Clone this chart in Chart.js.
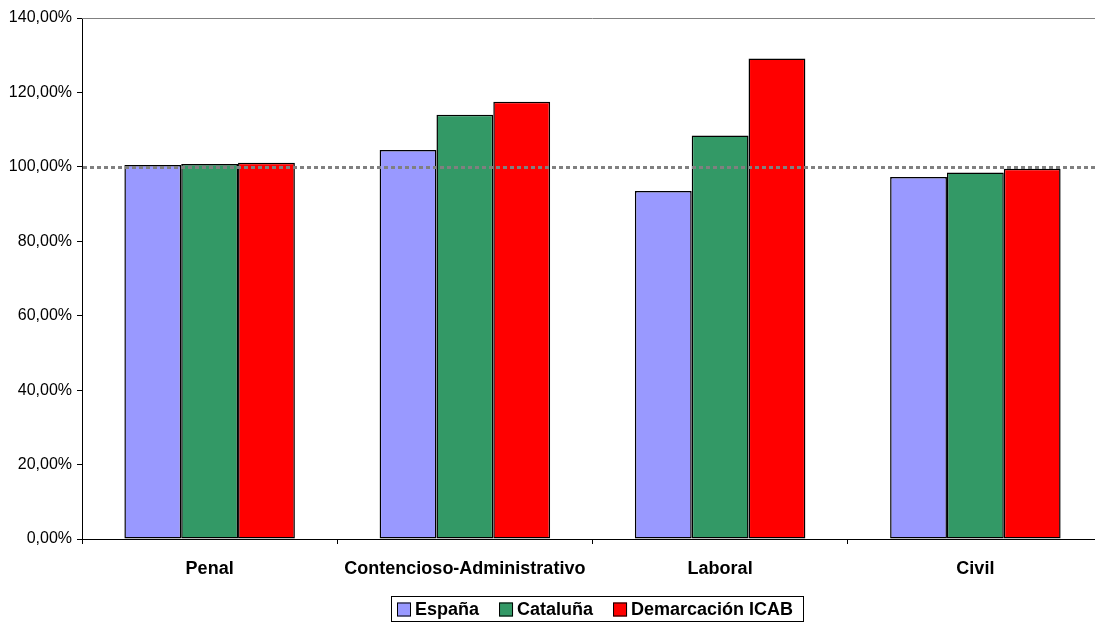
<!DOCTYPE html>
<html><head><meta charset="utf-8">
<script src="https://cdn.jsdelivr.net/npm/chart.js@4/dist/chart.umd.min.js"></script>
<style>
html,body{margin:0;padding:0;background:#fff;overflow:hidden;width:1095px;height:623px}
#wrap{width:1095px;height:623px;overflow:hidden;position:relative}
canvas{display:block;position:absolute;left:0;top:0}
</style>
</head><body><div id="wrap"><canvas id="c" width="1104" height="623"></canvas></div>
<script>
const categories = ['Penal', 'Contencioso-Administrativo', 'Laboral', 'Civil'];
const seriesNames = ['España', 'Cataluña', 'Demarcación ICAB'];
const espana = [100.5, 104.5, 93.5, 97.3];
const cataluna = [100.8, 114.0, 108.4, 98.5];
const icab = [101.1, 117.5, 129.1, 99.5];
const yTicks = [0, 20, 40, 60, 80, 100, 120, 140];
const referenceValue = 100;

const colors = ['#9999FF', '#339966', '#FF0000'];

function fmt(v) { return v.toFixed(2).replace('.', ',') + '%'; }

const extras = {
  id: 'extras',
  afterDatasetsDraw(chart) {
    const ctx = chart.ctx, a = chart.chartArea;
    const y = chart.scales.y.getPixelForValue(referenceValue);
    ctx.save();
    ctx.strokeStyle = '#808080';
    ctx.lineWidth = 3;
    ctx.setLineDash([4, 3]);
    ctx.beginPath();
    ctx.moveTo(a.left + 1, Math.round(y) + 0.5);
    ctx.lineTo(a.right, Math.round(y) + 0.5);
    ctx.stroke();
    ctx.restore();
  },
  afterDraw(chart) {
    const ctx = chart.ctx, a = chart.chartArea;
    ctx.save();
    ctx.strokeStyle = '#808080';
    ctx.lineWidth = 1;
    ctx.beginPath();
    ctx.moveTo(a.left, Math.round(a.top) + 0.5);
    ctx.lineTo(a.right, Math.round(a.top) + 0.5);
    ctx.stroke();

    ctx.font = 'bold 18px "Liberation Sans", Arial, sans-serif';
    const box = 14, gap = 4, sep = 20, pad = 6;
    const widths = chart.data.datasets.map(d => ctx.measureText(d.label).width);
    let total = pad * 2 + sep * (widths.length - 1);
    widths.forEach(w => total += box + gap + w);
    total = Math.max(total, 412);
    const cx = 597;
    const left = Math.round(cx - total / 2);
    const top = 596, h = 25;
    ctx.strokeStyle = '#000';
    ctx.lineWidth = 1;
    ctx.strokeRect(left + 0.5, top + 0.5, Math.round(total), h);
    let x = left + pad;
    const midY = top + h / 2 + 1;
    ctx.textBaseline = 'middle';
    ctx.textAlign = 'left';
    chart.data.datasets.forEach((d, i) => {
      ctx.fillStyle = d.backgroundColor;
      ctx.fillRect(x, midY - box / 2, box, box);
      ctx.strokeStyle = '#000';
      ctx.strokeRect(x + 0.5, midY - box / 2 + 0.5, box - 1, box - 1);
      x += box + gap;
      ctx.fillStyle = '#000';
      ctx.fillText(d.label, x, midY + 1);
      x += widths[i] + sep;
    });
    ctx.restore();
  }
};

const seriesValues = [espana, cataluna, icab];

new Chart(document.getElementById('c'), {
  type: 'bar',
  data: {
    labels: categories,
    datasets: seriesNames.map((name, i) => ({
      label: name,
      data: seriesValues[i],
      backgroundColor: colors[i],
      borderColor: '#000000',
      borderWidth: 1.5,
      borderSkipped: false,
      categoryPercentage: 0.668,
      barPercentage: 1.0
    }))
  },
  options: {
    responsive: false,
    animation: false,
    devicePixelRatio: 1,
    layout: { padding: { top: 18, right: 1, bottom: 34, left: 0 } },
    plugins: {
      legend: { display: false },
      tooltip: { enabled: false }
    },
    scales: {
      x: {
        offset: true,
        grid: {
          display: true, drawOnChartArea: false, drawTicks: true,
          tickLength: 5, color: '#000', offset: true
        },
        border: { display: true, color: '#000', width: 1 },
        ticks: {
          color: '#000', padding: 14, maxRotation: 0, autoSkip: false,
          font: { family: '"Liberation Sans", Arial, sans-serif', size: 18, weight: 'bold' }
        },
        afterFit(s) { s.height = 50; }
      },
      y: {
        min: 0, max: 140,
        afterBuildTicks(s) { s.ticks = yTicks.map(v => ({ value: v })); },
        grid: {
          display: true, drawOnChartArea: false, drawTicks: true,
          tickLength: 5, color: '#000'
        },
        border: { display: true, color: '#000', width: 1 },
        ticks: {
          color: '#000', padding: 5,
          font: { family: '"Liberation Sans", Arial, sans-serif', size: 16 },
          callback: v => fmt(v)
        },
        afterFit(s) { s.width = 82; }
      }
    }
  },
  plugins: [extras]
});
</script>
</body></html>
